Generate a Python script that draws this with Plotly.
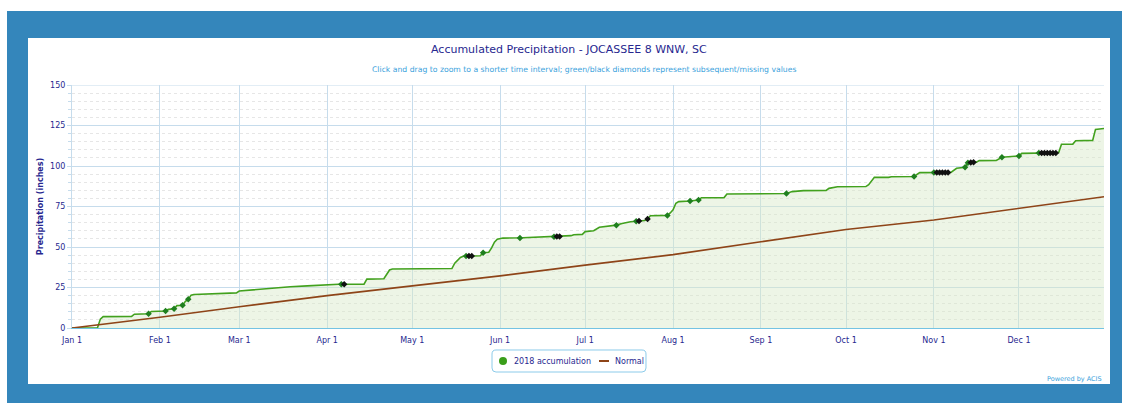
import plotly.graph_objects as go

# ---------------- data ----------------
acc_dates = ["2018-01-01","2018-01-10","2018-01-11","2018-01-12","2018-01-22","2018-01-23","2018-01-28","2018-01-29",
             "2018-02-03","2018-02-04","2018-02-06","2018-02-07","2018-02-09","2018-02-10","2018-02-11","2018-02-12",
             "2018-02-13","2018-02-27","2018-02-28","2018-03-01","2018-03-07","2018-03-12","2018-03-19","2018-03-25",
             "2018-04-01","2018-04-05","2018-04-14","2018-04-15","2018-04-21","2018-04-22","2018-04-23","2018-04-24",
             "2018-05-15","2018-05-16","2018-05-18","2018-05-19","2018-05-25","2018-05-26","2018-05-28","2018-05-29",
             "2018-05-30","2018-05-31","2018-06-02","2018-06-09","2018-06-20","2018-06-23","2018-06-26","2018-06-27",
             "2018-06-30","2018-07-01","2018-07-04","2018-07-06","2018-07-12","2018-07-14","2018-07-17","2018-07-22",
             "2018-07-23","2018-07-24","2018-07-30","2018-07-31","2018-08-01","2018-08-02","2018-08-03","2018-08-07",
             "2018-08-10","2018-08-11","2018-08-19","2018-08-20","2018-09-10","2018-09-12","2018-09-16","2018-09-24",
             "2018-09-25","2018-09-28","2018-10-08","2018-10-09","2018-10-11","2018-10-16","2018-10-17","2018-10-25",
             "2018-10-27","2018-11-07","2018-11-08","2018-11-09","2018-11-12","2018-11-13","2018-11-16","2018-11-17",
             "2018-11-23","2018-11-25","2018-12-01","2018-12-02","2018-12-15","2018-12-16","2018-12-20","2018-12-21",
             "2018-12-27","2018-12-28","2018-12-31"]
acc_values = [0, 0.2, 5.5, 7.0, 7.2, 8.5, 8.8, 10.2,
              10.5, 11.5, 11.9, 13.8, 14.0, 16.5, 17.7, 20.3,
              20.7, 21.5, 21.7, 22.8, 23.8, 24.2, 25.5, 26.0,
              26.6, 27.0, 27.1, 30.2, 30.4, 33.0, 35.8, 36.4,
              36.7, 40.0, 43.5, 44.3, 44.6, 46.5, 46.8, 49.5,
              53.0, 54.8, 55.5, 55.7, 56.4, 56.6, 57.0, 57.6,
              57.8, 59.5, 60.0, 62.2, 63.5, 64.5, 65.6, 66.3,
              67.3, 69.3, 69.5, 71.0, 73.0, 77.0, 78.0, 78.4,
              79.0, 80.4, 80.5, 82.7, 83.0, 84.2, 84.8, 84.9,
              86.2, 87.2, 87.3, 88.5, 93.0, 93.0, 93.4, 93.5,
              95.9, 96.0, 97.5, 98.6, 99.2, 102.0, 102.4, 103.3,
              103.4, 105.4, 106.2, 107.8, 108.2, 113.4, 113.5, 115.6,
              115.8, 122.6, 123.2]

subsequent_dates = ["2018-01-28","2018-02-03","2018-02-06","2018-02-09","2018-02-11","2018-04-06","2018-05-20",
                    "2018-05-26","2018-06-08","2018-06-20","2018-07-12","2018-07-19","2018-07-30","2018-08-07",
                    "2018-08-10","2018-09-10","2018-10-25","2018-11-01","2018-11-12","2018-11-13","2018-11-25",
                    "2018-12-01","2018-12-08"]
subsequent_values = [8.8, 10.5, 11.9, 14.0, 17.7, 27.0, 44.4,
                     46.5, 55.6, 56.4, 63.5, 65.9, 69.5, 78.4,
                     79.0, 83.0, 93.5, 96.0, 99.2, 102.0, 105.4,
                     106.2, 108.0]

missing_dates = ["2018-04-07","2018-05-21","2018-05-22","2018-06-21","2018-06-22","2018-07-20","2018-07-23",
                 "2018-11-02","2018-11-03","2018-11-04","2018-11-05","2018-11-06","2018-11-14","2018-11-15",
                 "2018-12-09","2018-12-10","2018-12-11","2018-12-12","2018-12-13","2018-12-14"]
missing_values = [27.0, 44.4, 44.4, 56.5, 56.5, 66.0, 67.3,
                  96.0, 96.0, 96.0, 96.0, 96.0, 102.2, 102.3,
                  108.0, 108.0, 108.0, 108.0, 108.0, 108.0]

normal_dates = ["2018-01-01","2018-02-01","2018-03-01","2018-04-01","2018-05-01","2018-06-01","2018-07-01",
                "2018-08-01","2018-09-01","2018-10-01","2018-11-01","2018-12-01","2018-12-31"]
normal_values = [0, 6.6, 13.1, 20.0, 26.0, 32.2, 38.8, 45.3, 53.2, 60.8, 66.7, 73.9, 81.0]

month_ticks = ["2018-01-01","2018-02-01","2018-03-01","2018-04-01","2018-05-01","2018-06-01",
               "2018-07-01","2018-08-01","2018-09-01","2018-10-01","2018-11-01","2018-12-01"]
month_labels = ["Jan 1","Feb 1","Mar 1","Apr 1","May 1","Jun 1","Jul 1","Aug 1","Sep 1","Oct 1","Nov 1","Dec 1"]

legend_labels = ["2018 accumulation", "Normal"]

# ---------------- styling ----------------
FONT = "DejaVu Sans"
DARK = "#27278f"
LIGHT = "#3aa2dc"
GREEN = "#42a11e"
BROWN = "#8e4418"
GRID = "#c6dcec"

W, H = 1122, 403
L, R, T, B = 72, 1104, 85, 328   # plot area pixels


def px(x):
    return (x - L) / (R - L)


def py(y):
    return (B - y) / (B - T)


fig = go.Figure()

fig.add_trace(go.Scatter(x=acc_dates, y=acc_values, mode="lines", fill="tozeroy",
                         fillcolor="rgba(214,232,200,0.45)", line=dict(color=GREEN, width=1.6),
                         showlegend=False, hoverinfo="x+y"))
fig.add_trace(go.Scatter(x=normal_dates, y=normal_values, mode="lines",
                         line=dict(color=BROWN, width=1.6), showlegend=False))
fig.add_trace(go.Scatter(x=subsequent_dates, y=subsequent_values, mode="markers",
                         marker=dict(symbol="diamond", size=5, color="#1f7f1f"), showlegend=False))
fig.add_trace(go.Scatter(x=missing_dates, y=missing_values, mode="markers",
                         marker=dict(symbol="diamond", size=5, color="#111111"), showlegend=False))

# legend box (rounded) in paper coords
lx0, lx1, ly0, ly1, rr = 492, 646, 350, 372, 4


def P(x, y):
    return f"{px(x):.5f},{py(y):.5f}"


legend_path = (f"M {P(lx0+rr, ly0)} L {P(lx1-rr, ly0)} Q {P(lx1, ly0)} {P(lx1, ly0+rr)} "
               f"L {P(lx1, ly1-rr)} Q {P(lx1, ly1)} {P(lx1-rr, ly1)} L {P(lx0+rr, ly1)} "
               f"Q {P(lx0, ly1)} {P(lx0, ly1-rr)} L {P(lx0, ly0+rr)} Q {P(lx0, ly0)} {P(lx0+rr, ly0)} Z")

shapes = [
    dict(type="rect", xref="paper", yref="paper", x0=px(7), x1=px(1122), y0=py(403), y1=py(11),
         fillcolor="#3486bb", line=dict(width=0), layer="below"),
    dict(type="rect", xref="paper", yref="paper", x0=px(28), x1=px(1110), y0=py(384), y1=py(38),
         fillcolor="white", line=dict(width=0), layer="below"),
    dict(type="line", xref="paper", yref="y", x0=0, x1=1, y0=150, y1=150,
         line=dict(color=GRID, width=1), layer="below"),
    dict(type="path", xref="paper", yref="paper", path=legend_path,
         fillcolor="white", line=dict(color="#8ccbea", width=1)),
    dict(type="circle", xref="paper", yref="paper", xsizemode="pixel", ysizemode="pixel",
         xanchor=px(503), yanchor=py(361), x0=-4, x1=4, y0=-4, y1=4,
         fillcolor="#3a9e1a", line=dict(width=0)),
    dict(type="line", xref="paper", yref="paper", x0=px(599), x1=px(609), y0=py(361), y1=py(361),
         line=dict(color=BROWN, width=2)),
]

annotations = [
    dict(text="Accumulated Precipitation - JOCASSEE 8 WNW, SC", xref="paper", yref="paper",
         x=px(569), y=py(49), xanchor="center", yanchor="middle", showarrow=False,
         font=dict(family=FONT, size=11, color=DARK)),
    dict(text="Click and drag to zoom to a shorter time interval; green/black diamonds represent subsequent/missing values",
         xref="paper", yref="paper", x=px(584), y=py(70), xanchor="center", yanchor="middle", showarrow=False,
         font=dict(family=FONT, size=7.7, color=LIGHT)),
    dict(text="Powered by ACIS", xref="paper", yref="paper", x=px(1104), y=py(379),
         xanchor="right", yanchor="middle", showarrow=False,
         font=dict(family=FONT, size=6.5, color=LIGHT)),
    dict(text=legend_labels[0], xref="paper", yref="paper", x=px(512), y=py(361),
         xanchor="left", yanchor="middle", showarrow=False,
         font=dict(family=FONT, size=8, color=DARK)),
    dict(text=legend_labels[1], xref="paper", yref="paper", x=px(613), y=py(361),
         xanchor="left", yanchor="middle", showarrow=False,
         font=dict(family=FONT, size=8, color=DARK)),
]

fig.update_layout(
    width=W, height=H,
    margin=dict(l=L, r=W - R, t=T, b=H - B, pad=0),
    paper_bgcolor="white", plot_bgcolor="rgba(0,0,0,0)",
    font=dict(family=FONT, size=8, color=DARK),
    shapes=shapes, annotations=annotations,
    showlegend=False,
    xaxis=dict(type="date", range=["2018-01-01", "2018-12-31"], tickvals=month_ticks, ticktext=month_labels,
               showgrid=True, gridcolor=GRID, gridwidth=1, showline=True, linecolor="#74c3e3", linewidth=1.2,
               ticks="", ticklabelstandoff=4, tickfont=dict(family=FONT, size=8, color=DARK),
               zeroline=False, fixedrange=True),
    yaxis=dict(range=[0, 150], dtick=25, tick0=0, showgrid=True, gridcolor=GRID, gridwidth=1,
               showline=True, linecolor=GRID, linewidth=1, ticks="outside", ticklen=4, tickcolor=GRID,
               tickfont=dict(family=FONT, size=8, color=DARK), zeroline=False, fixedrange=True,
               title=dict(text="<b>Precipitation (inches)</b>", font=dict(family=FONT, size=8, color=DARK),
                          standoff=5),
               minor=dict(dtick=5, showgrid=True, gridcolor="#e6e6e6", griddash="dot", gridwidth=1,
                          ticks="outside", ticklen=3, tickcolor=GRID)),
)

fig.write_html("out.html", config={"displayModeBar": False},
               post_script="document.body.style.margin='0';document.body.style.overflow='hidden';")
